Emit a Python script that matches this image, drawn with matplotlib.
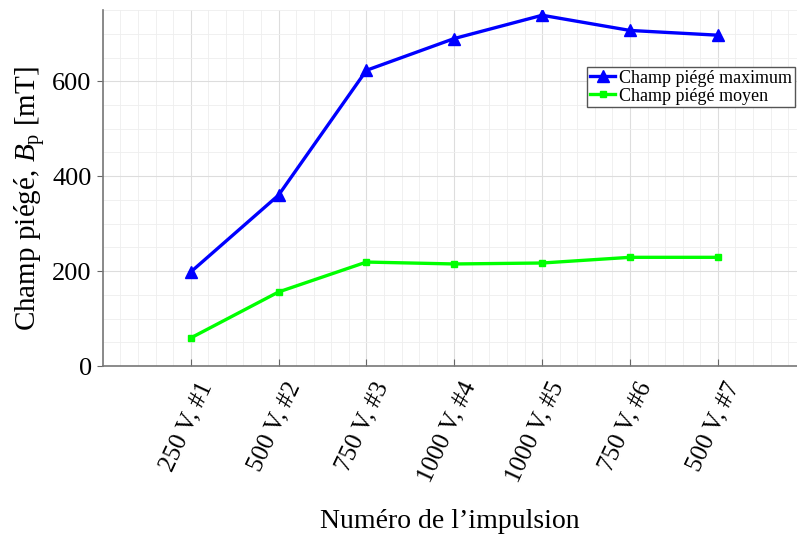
import numpy as np
import matplotlib.pyplot as plt
import matplotlib.transforms as mtransforms
from matplotlib.ticker import MultipleLocator

plt.rcParams['font.family'] = ['Liberation Serif', 'DejaVu Serif']
plt.rcParams['mathtext.fontset'] = 'custom'
plt.rcParams['mathtext.rm'] = 'Liberation Serif'
plt.rcParams['mathtext.it'] = 'Liberation Serif:italic'

# impulsions
labels = ["250 V, #1", "500 V, #2", "750 V, #3", "1000 V, #4",
          "1000 V, #5", "750 V, #6", "500 V, #7"]
bp_max = [198, 360, 623, 690, 739, 707, 697]
bp_moy = [59, 156, 219, 215, 217, 229, 229]

x = np.arange(1, len(labels) + 1)

fig = plt.figure(figsize=(7.97, 5.34), dpi=100)
ax = fig.add_axes([0.129, 0.3146, 0.871, 0.6666])

ax.plot(x, bp_max, color="#0000ff", lw=2.4, marker="^", ms=8,
        label="Champ piégé maximum")
ax.plot(x, bp_moy, color="#00ff00", lw=2.4, marker="s", ms=4.5,
        label="Champ piégé moyen")

ax.set_xlim(0, 7.9)
ax.set_ylim(0, 750)
ax.set_xticks(x)
ax.set_yticks([0, 200, 400, 600])
ax.tick_params(axis="y", labelsize=19, direction="out", length=4,
               color="#666666", pad=4)
ax.tick_params(axis="x", direction="in", length=5, color="#666666", pad=0)
ax.xaxis.set_minor_locator(MultipleLocator(0.2))
ax.yaxis.set_minor_locator(MultipleLocator(50))
ax.tick_params(which="minor", length=0)

ax.set_xticklabels(labels, rotation=65, ha="right", va="center",
                   rotation_mode="anchor", fontsize=18)
# décale les étiquettes vers la droite, sous chaque graduation
shift = mtransforms.ScaledTranslation(0.16, -0.17, fig.dpi_scale_trans)
for lab in ax.get_xticklabels():
    lab.set_transform(lab.get_transform() + shift)

ax.grid(True, which="major", color="#dddddd", lw=0.8)
ax.grid(True, which="minor", color="#eeeeee", lw=0.6)
ax.set_axisbelow(True)

for s in ["top", "right"]:
    ax.spines[s].set_visible(False)
for s in ["left", "bottom"]:
    ax.spines[s].set_color("#777777")
    ax.spines[s].set_linewidth(1.2)

ax.set_ylabel(r"Champ piégé, $B_{\mathrm{p}}$ [mT]", fontsize=21)
ax.yaxis.set_label_coords(-0.079, 0.469)
ax.set_xlabel("Numéro de l’impulsion", fontsize=20, labelpad=17)

leg = ax.legend(loc="upper left", bbox_to_anchor=(0.698, 0.84), fontsize=13,
                handlelength=1.4, handletextpad=0.2, borderpad=0.15,
                labelspacing=0.05, fancybox=False, framealpha=1,
                borderaxespad=0)
leg.get_frame().set_edgecolor("#555555")
leg.get_frame().set_linewidth(1.0)

fig.savefig("out.png", dpi=100)
